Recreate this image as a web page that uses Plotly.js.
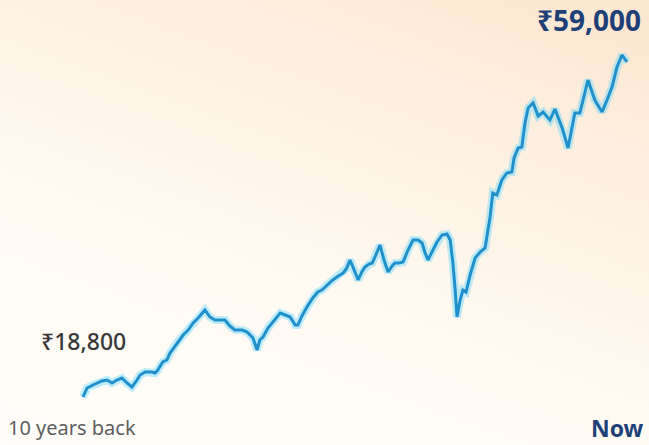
<!DOCTYPE html>
<html>
<head>
<meta charset="utf-8">
<script src="https://cdn.plot.ly/plotly-3.0.1.min.js"></script>
<style>
  html, body { margin: 0; padding: 0; }
  #chart {
    width: 649px; height: 445px;
    background: linear-gradient(20deg, #fffefa 0%, #fffaf2 40%, #fdeedd 78%, #fce5cd 100%);
  }
</style>
</head>
<body>
<div id="chart"></div>
<script>
// Months since "10 years back" (0) to "Now" (120)
const months = [0,0.9,2.2,3.1,4.2,5.3,6.4,7.5,8.6,9.7,10.8,11.9,12.6,13.7,15.2,15.9,16.5,17.6,18.5,19.2,
  20.7,22.1,23.2,24.3,25.4,26.9,28.0,29.1,30.2,31.3,32.4,33.5,35.1,36.2,37.5,38.4,39.0,39.7,40.8,41.9,
  43.5,44.6,45.7,46.8,47.4,48.3,49.4,50.7,51.8,52.7,53.8,55.1,56.3,57.4,58.2,58.9,60.0,60.7,61.5,62.2,
  63.1,63.8,64.6,65.5,66.4,67.3,68.2,68.8,69.7,70.6,71.7,72.8,73.9,74.8,75.4,76.1,77.2,78.1,79.2,80.3,
  81.0,81.6,82.1,82.5,83.2,83.8,84.5,85.4,86.5,87.6,88.7,89.8,90.4,91.3,92.4,93.5,94.6,95.1,96.0,96.8,
  97.5,98.2,99.3,100.4,101.5,103.0,104.1,105.7,107.0,107.9,108.5,109.6,111.4,112.9,114.5,115.6,116.7,117.8,118.9,120.0];
// Portfolio value in rupees
const values = [18800,19880,20240,20480,20720,20840,20480,20840,21080,20480,20000,20840,21440,21800,21800,21680,22040,23000,23240,24080,
  25280,26240,26840,27680,28280,29240,28400,28040,28040,28040,27320,26840,26840,26600,25880,24440,25640,26000,27080,27800,
  28880,28640,28400,27440,27440,28520,29600,30680,31400,31640,32240,32840,33320,33680,34280,35240,33800,32840,33800,34400,
  34760,34880,35840,37040,35240,33800,34520,34880,34880,35000,36440,37640,37640,37280,36200,35240,36440,37400,38240,38360,
  37640,34880,31640,28400,30440,31640,31400,33440,35480,36200,36680,40400,43280,43040,44840,45680,45800,47480,48680,48800,
  51680,53480,54080,52520,53000,52040,53360,51080,48680,51440,52880,52880,56840,54440,53000,54440,56000,58400,59840,59000];
const startLabel = "₹18,800";
const endLabel = "₹59,000";
const leftCaption = "10 years back";
const rightCaption = "Now";

const halo = {
  x: months, y: values, type: 'scatter', mode: 'lines',
  line: { color: 'rgba(110,215,250,0.45)', width: 8, shape: 'linear' },
  hoverinfo: 'skip', cliponaxis: false
};
const main = {
  x: months, y: values, type: 'scatter', mode: 'lines',
  line: { color: '#1f90cc', width: 3, shape: 'linear' },
  cliponaxis: false
};

const layout = {
  width: 649, height: 445,
  margin: { l: 60, r: 9, t: 40, b: 25 },
  paper_bgcolor: 'rgba(0,0,0,0)',
  plot_bgcolor: 'rgba(0,0,0,0)',
  showlegend: false,
  xaxis: { range: [-5.07, 122.87], visible: false, fixedrange: true },
  yaxis: { range: [16040, 61640], visible: false, fixedrange: true },
  font: { family: 'Noto Sans, Open Sans, sans-serif' },
  annotations: [
    { xref: 'paper', yref: 'paper', x: 0.04, y: 0.208, xanchor: 'center', yanchor: 'middle',
      text: startLabel, showarrow: false,
      font: { family: 'Noto Sans, sans-serif', size: 23, color: '#383838', weight: 500 } },
    { xref: 'paper', yref: 'paper', x: 0.819, y: 1.053, xanchor: 'left', yanchor: 'middle',
      text: '<b>' + endLabel + '</b>', showarrow: false,
      font: { family: 'Noto Sans, sans-serif', size: 28, color: '#1f3f78' } },
    { xref: 'paper', yref: 'paper', x: -0.093, y: -0.021, xanchor: 'left', yanchor: 'middle',
      text: leftCaption, showarrow: false,
      font: { family: 'Noto Sans, sans-serif', size: 20, color: '#5e5e5e' } },
    { xref: 'paper', yref: 'paper', x: 1.011, y: -0.021, xanchor: 'right', yanchor: 'middle',
      text: '<b>' + rightCaption + '</b>', showarrow: false,
      font: { family: 'Noto Sans, sans-serif', size: 23, color: '#1f3f78' } }
  ]
};

Plotly.newPlot('chart', [halo, main], layout, { displayModeBar: false, staticPlot: true });
</script>
</body>
</html>
